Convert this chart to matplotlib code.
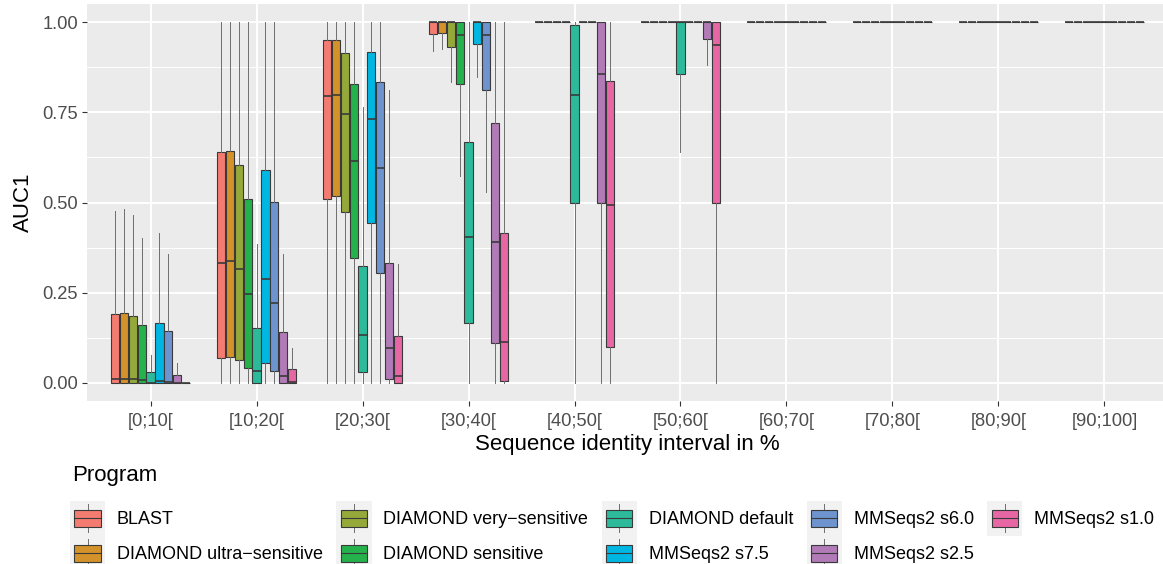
import numpy as np
import matplotlib
matplotlib.use("Agg")
import matplotlib.pyplot as plt
from matplotlib.patches import Patch, Rectangle
from matplotlib.lines import Line2D
from matplotlib.legend_handler import HandlerBase

plt.rcParams['font.family'] = ['Liberation Sans', 'DejaVu Sans']

intervals = ["[0;10[", "[10;20[", "[20;30[", "[30;40[", "[40;50[",
             "[50;60[", "[60;70[", "[70;80[", "[80;90[", "[90;100]"]
programs = ["BLAST", "DIAMOND ultra\u2212sensitive", "DIAMOND very\u2212sensitive",
            "DIAMOND sensitive", "DIAMOND default", "MMSeqs2 s7.5",
            "MMSeqs2 s6.0", "MMSeqs2 s2.5", "MMSeqs2 s1.0"]
colors = ["#F47B70", "#D4922A", "#95A93A", "#25B14C", "#2CBA9A",
          "#00B7E3", "#6D94CE", "#B27BB7", "#E767A4"]

# five-number summaries, one row per program, one column per interval
whislo = [
    [0, 0, 0, 0.920, 1, 1, 1, 1, 1, 1],
    [0, 0, 0, 0.926, 1, 1, 1, 1, 1, 1],
    [0, 0, 0, 0.833, 1, 1, 1, 1, 1, 1],
    [0, 0, 0, 0.574, 1, 1, 1, 1, 1, 1],
    [0, 0, 0, 0, 0, 0.641, 1, 1, 1, 1],
    [0, 0, 0, 0.848, 1, 1, 1, 1, 1, 1],
    [0, 0, 0, 0.528, 1, 1, 1, 1, 1, 1],
    [0, 0, 0, 0, 0, 0.880, 1, 1, 1, 1],
    [0, 0, 0, 0, 0, 0, 1, 1, 1, 1],
]
q1 = [
    [0, 0.070, 0.511, 0.967, 1, 1, 1, 1, 1, 1],
    [0, 0.071, 0.517, 0.970, 1, 1, 1, 1, 1, 1],
    [0, 0.064, 0.474, 0.932, 1, 1, 1, 1, 1, 1],
    [0, 0.042, 0.345, 0.829, 1, 1, 1, 1, 1, 1],
    [0, 0, 0.031, 0.166, 0.500, 0.856, 1, 1, 1, 1],
    [0, 0.054, 0.443, 0.939, 1, 1, 1, 1, 1, 1],
    [0, 0.032, 0.304, 0.812, 1, 1, 1, 1, 1, 1],
    [0, 0, 0.011, 0.112, 0.500, 0.952, 1, 1, 1, 1],
    [0, 0, 0.001, 0.006, 0.099, 0.500, 1, 1, 1, 1],
]
med = [
    [0.010, 0.333, 0.794, 1, 1, 1, 1, 1, 1, 1],
    [0.012, 0.338, 0.799, 1, 1, 1, 1, 1, 1, 1],
    [0.010, 0.317, 0.744, 1, 1, 1, 1, 1, 1, 1],
    [0.008, 0.247, 0.615, 0.965, 1, 1, 1, 1, 1, 1],
    [0.001, 0.033, 0.133, 0.405, 0.797, 1, 1, 1, 1, 1],
    [0.006, 0.289, 0.732, 1, 1, 1, 1, 1, 1, 1],
    [0.004, 0.222, 0.596, 0.965, 1, 1, 1, 1, 1, 1],
    [0.001, 0.019, 0.098, 0.391, 0.857, 1, 1, 1, 1, 1],
    [0, 0.002, 0.018, 0.114, 0.493, 0.937, 1, 1, 1, 1],
]
q3 = [
    [0.191, 0.639, 0.949, 1, 1, 1, 1, 1, 1, 1],
    [0.193, 0.642, 0.949, 1, 1, 1, 1, 1, 1, 1],
    [0.186, 0.604, 0.915, 1, 1, 1, 1, 1, 1, 1],
    [0.161, 0.509, 0.829, 1, 1, 1, 1, 1, 1, 1],
    [0.031, 0.153, 0.323, 0.667, 0.993, 1, 1, 1, 1, 1],
    [0.166, 0.590, 0.918, 1, 1, 1, 1, 1, 1, 1],
    [0.143, 0.501, 0.833, 1, 1, 1, 1, 1, 1, 1],
    [0.022, 0.142, 0.331, 0.721, 1, 1, 1, 1, 1, 1],
    [0, 0.039, 0.131, 0.415, 0.838, 1, 1, 1, 1, 1],
]
whishi = [
    [0.477, 1, 1, 1, 1, 1, 1, 1, 1, 1],
    [0.481, 1, 1, 1, 1, 1, 1, 1, 1, 1],
    [0.464, 1, 1, 1, 1, 1, 1, 1, 1, 1],
    [0.402, 1, 1, 1, 1, 1, 1, 1, 1, 1],
    [0.078, 0.384, 0.764, 1, 1, 1, 1, 1, 1, 1],
    [0.416, 1, 1, 1, 1, 1, 1, 1, 1, 1],
    [0.356, 1, 1, 1, 1, 1, 1, 1, 1, 1],
    [0.055, 0.356, 0.811, 1, 1, 1, 1, 1, 1, 1],
    [0, 0.097, 0.329, 1, 1, 1, 1, 1, 1, 1],
]

edge = "#3A3A3A"
W, H = 1163, 564
fig = plt.figure(figsize=(W / 100, H / 100), dpi=100)
ax = fig.add_axes([87 / W, (H - 401) / H, (1168 - 87) / W, 397 / H])
ax.set_facecolor("#EBEBEB")
for s in ax.spines.values():
    s.set_visible(False)

n_prog = len(programs)
slot = 0.75 / n_prog
x = np.arange(len(intervals))
for j in range(n_prog):
    stats = [dict(whislo=whislo[j][i], q1=q1[j][i], med=med[j][i],
                  q3=q3[j][i], whishi=whishi[j][i])
             for i in range(len(intervals))]
    ax.bxp(stats, positions=x + (j - (n_prog - 1) / 2) * slot, widths=slot * 0.93,
           patch_artist=True, showfliers=False, showcaps=False, manage_ticks=False,
           boxprops=dict(facecolor=colors[j], edgecolor=edge, linewidth=0.8),
           medianprops=dict(color=edge, linewidth=1.2),
           whiskerprops=dict(color="#6E6E6E", linewidth=0.7), zorder=3)

ax.set_xlim(-0.6, len(intervals) - 0.4)
ax.set_ylim(-0.05, 1.05)
ax.set_xticks(x)
ax.set_xticklabels(intervals)
ax.set_yticks([0, 0.25, 0.5, 0.75, 1.0])
ax.set_yticklabels(["0.00", "0.25", "0.50", "0.75", "1.00"])
ax.set_yticks([0.125, 0.375, 0.625, 0.875], minor=True)
ax.grid(which="major", color="white", linewidth=1.4, zorder=0)
ax.grid(which="minor", axis="y", color="white", linewidth=0.7, zorder=0)
ax.set_axisbelow(True)
ax.tick_params(which="major", length=3.5, width=0.8, color="#333333",
               labelsize=13.2, labelcolor="#4D4D4D", pad=3)
ax.tick_params(axis="x", which="major", pad=5)
ax.tick_params(which="minor", length=0)
ax.set_xlabel("Sequence identity interval in %", fontsize=16, labelpad=3)
ax.set_ylabel("AUC1", fontsize=16, labelpad=6)


class BoxKey(HandlerBase):
    def create_artists(self, legend, orig_handle, xdescent, ydescent,
                       width, height, fontsize, trans):
        x0, y0 = -xdescent, -ydescent
        bg = Rectangle((x0, y0), width, height, facecolor="#F2F2F2",
                       edgecolor="none", transform=trans)
        lo = Line2D([x0 + width / 2] * 2, [y0 + 0.1 * height, y0 + 0.25 * height],
                    color="#6E6E6E", linewidth=0.7, transform=trans)
        hi = Line2D([x0 + width / 2] * 2, [y0 + 0.75 * height, y0 + 0.9 * height],
                    color="#6E6E6E", linewidth=0.7, transform=trans)
        box = Rectangle((x0 + 0.125 * width, y0 + 0.25 * height), 0.75 * width,
                        0.5 * height, facecolor=orig_handle.get_facecolor(),
                        edgecolor=edge, linewidth=0.8, transform=trans)
        mid = Line2D([x0 + 0.125 * width, x0 + 0.875 * width], [y0 + 0.5 * height] * 2,
                     color=edge, linewidth=0.8, transform=trans)
        return [bg, lo, hi, box, mid]


handles = [Patch(facecolor=c) for c in colors]
fig.text(72 / W, 1 - 476 / H, "Program", fontsize=16, va="center", ha="left")
fig.legend(handles, programs, handler_map={Patch: BoxKey()}, ncol=5,
           loc="upper left", bbox_to_anchor=(70 / W, 1 - 501 / H),
           frameon=False, fontsize=13.0, borderpad=0, borderaxespad=0,
           handlelength=1.94, handleheight=2.6, handletextpad=0.66,
           labelspacing=0, columnspacing=0.75)

fig.savefig("out.png", dpi=100)
